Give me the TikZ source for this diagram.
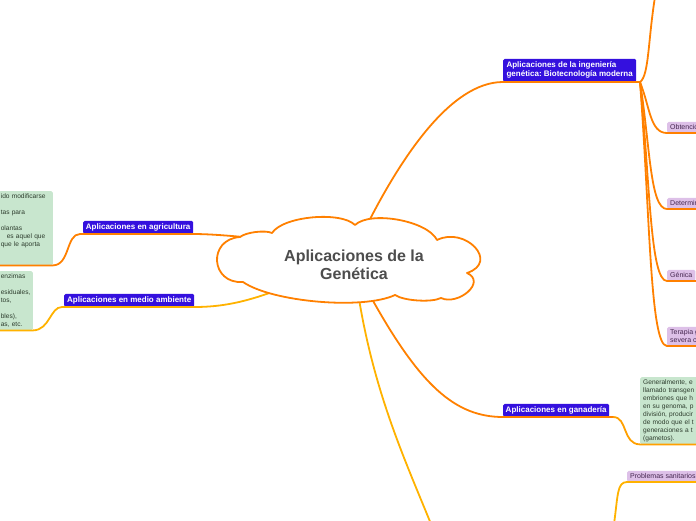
\documentclass[tikz,border=0pt]{standalone}
\usepackage{fontspec}
\setmainfont{Liberation Sans}
\frenchspacing
\definecolor{branch}{RGB}{255,128,0}
\definecolor{branchm}{RGB}{255,160,0}
\definecolor{branchy}{RGB}{255,178,0}
\definecolor{bluebox}{RGB}{52,16,222}
\definecolor{lav}{RGB}{221,192,232}
\definecolor{lavtext}{RGB}{70,40,80}
\definecolor{greenbg}{RGB}{200,230,206}
\definecolor{greentext}{RGB}{45,60,45}
\definecolor{cloudtext}{RGB}{77,77,77}
\begin{document}
\begin{tikzpicture}[x=1pt,y=-1pt,
  conn/.style={draw=branch, line width=1.8pt},
  connm/.style={draw=branchm, line width=1.8pt},
  conny/.style={draw=branchy, line width=1.8pt},
  mainbox/.style={fill=bluebox, text=white, rounded corners=1.5pt, font=\fontsize{8}{9}\selectfont\bfseries, inner sep=0pt, anchor=south west},
  subbox/.style={fill=lav, text=lavtext, rounded corners=1.5pt, font=\fontsize{7}{8}\selectfont, inner ysep=0pt, inner xsep=3pt, anchor=south west, align=left},
  notebox/.style={fill=greenbg, text=greentext, rounded corners=1.5pt, font=\fontsize{6.6}{8}\selectfont, align=left, inner ysep=2pt, inner xsep=2pt},
]
\useasboundingbox (0,0) rectangle (696,520);
\clip (0,0) rectangle (696,520);

% attachment points
\coordinate (cAgri) at (243,237);
\coordinate (cEnv) at (275,291);
\coordinate (cIng) at (367,225);
\coordinate (cGan) at (372,299);
\coordinate (cLow) at (359,299);
\coordinate (ingHub) at (640,82);
\coordinate (topEnd) at (655,-3);
\coordinate (agriHub) at (80,234);
\coordinate (envHub) at (62,307);
\coordinate (ganHub) at (613,417);
\coordinate (lowEnd) at (431,524);
\coordinate (probStart) at (614,524);

% main boxes
\node[mainbox, minimum width=133, minimum height=23, inner xsep=3pt, align=left] (ing) at (503,82) {Aplicaciones de la ingeniería\\genética: Biotecnología moderna};
\node[mainbox, minimum width=110, minimum height=13] (agri) at (83,234) {Aplicaciones en agricultura};
\node[mainbox, minimum width=130, minimum height=13] (env) at (64,307) {Aplicaciones en medio ambiente};
\node[mainbox, minimum width=106, minimum height=13] (gan) at (503,417) {Aplicaciones en ganadería};

% sub boxes
\node[subbox, minimum height=11] (obt) at (667,133) {Obtenció};
\node[subbox, minimum height=11] (det) at (667,209) {Determin};
\node[subbox, minimum height=11] (gen) at (667,281) {Génica};
\node[subbox, minimum height=19] (ter) at (667,346) {Terapia g\\severa c};
\node[subbox, minimum height=11] (prob) at (627,482) {Problemas sanitarios};

% notes
\node[notebox, anchor=north east, text width=50, minimum height=74] (note1) at (53,191)
  {ido modificarse\\\mbox{}\\tas para\\\mbox{}\\olantas\\\hspace*{6pt}es aquel que\\que le aporta\\\mbox{}\\\mbox{}};
\node[notebox, anchor=north east, text width=30, minimum height=59] (note2) at (33,271)
  {enzimas\\\mbox{}\\esiduales,\\tos,\\\mbox{}\\bles),\\as, etc.};
\node[notebox, anchor=north west, text width=80, inner xsep=3pt, minimum height=67] (note3) at (640,377)
  {Generalmente, e\\llamado transgen\\embriones que h\\en su genoma, p\\división, producir\\de modo que el t\\generaciones a t\\(gametos).};

% connectors
\draw[conn] (cAgri) .. controls (222,235) and (205,234) .. (agri.south east) -- (agri.south west) -- (agriHub)
  .. controls (66,234) and (70,265) .. (note1.south east) -- (note1.south west);
\draw[conny] (cEnv) .. controls (245,302) and (222,307) .. (env.south east) -- (env.south west) -- (envHub)
  .. controls (50,307) and (50,330) .. (note2.south east) -- (note2.south west);
\draw[conn] (cIng) .. controls (400,160) and (450,82) .. (ing.south west) -- (ing.south east) -- (ingHub);
\draw[conn] (ingHub) .. controls (649,76) and (648,40) .. (topEnd);
\draw[conn] (ingHub) .. controls (650,107) and (650,133) .. (obt.south west) -- (obt.south east);
\draw[conn] (ingHub) .. controls (650,145) and (650,209) .. (det.south west) -- (det.south east);
\draw[conn] (ingHub) .. controls (650,181) and (650,281) .. (gen.south west) -- ([xshift=3pt]gen.south east);
\draw[conn] (ingHub) .. controls (650,214) and (650,346) .. (ter.south west) -- (ter.south east);
\draw[conn] (cGan) .. controls (420,385) and (455,417) .. (gan.south west) -- (gan.south east) -- (ganHub);
\draw[connm] (ganHub) .. controls (628,417) and (622,444) .. (note3.south west) -- (note3.south east);
\draw[conny] (cLow) .. controls (375,395) and (405,460) .. (lowEnd);
\draw[conny] (probStart) .. controls (618,495) and (617,482) .. (prob.south west) -- (prob.south east);

% cloud
\draw[branch, line width=1.8pt, fill=white, line join=round]
  (240,237) .. controls (245.9,232.2) and (265.2,229.8) .. (272,233)
  .. controls (283,216) and (341,211) .. (355,225)
  .. controls (370.4,210.3) and (427.8,220.8) .. (437,240)
  .. controls (465,226) and (500,262) .. (467,273)
  .. controls (487,282) and (458,306) .. (441,298)
  .. controls (431.5,302.7) and (403.9,300.9) .. (395,295)
  .. controls (363,310) and (272,302) .. (243,282)
  .. controls (210.4,284.2) and (207.4,239.2) .. (240,237) -- cycle;
\node[font=\fontsize{16}{18}\selectfont\bfseries, text=cloudtext, align=center] (title) at (354,265) {Aplicaciones de la\\Genética};
\end{tikzpicture}
\end{document}
